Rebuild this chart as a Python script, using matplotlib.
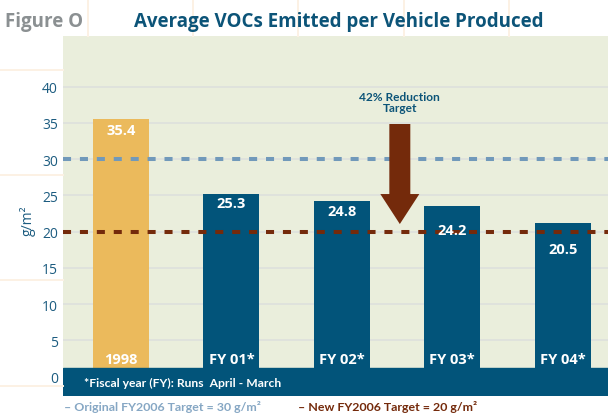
#average VOCs emitted per vehicle produced
import matplotlib.pyplot as plt
import matplotlib as mpl
from matplotlib.lines import Line2D

categories = ['1998', 'FY 01*', 'FY 02*', 'FY 03*', 'FY 04*']
bar_heights = [35.6, 25.2, 24.2, 23.5, 21.2]
value_labels = ['35.4', '25.3', '24.8', '24.2', '20.5']
original_target = 30
new_target = 20
y_ticks = [0, 5, 10, 15, 20, 25, 30, 35, 40]

navy = '#02547A'
gold = '#EBBA5C'
brown = '#742A0B'
light_blue = '#7199BA'
title_col = '#0C5478'
tick_col = '#1C5C80'
bg = '#EAEEDC'
grid_col = '#DFE2DC'
peach = '#FCF1E4'

fig_w, fig_h = 608, 414
fig_dpi = 100
mpl.rc('font', family='Open Sans')
narrow = ['Lato', 'DejaVu Sans']

def px(x):
    return x / fig_w

def py(y):
    return 1 - y / fig_h

figure = plt.figure(figsize=(fig_w / fig_dpi, fig_h / fig_dpi), dpi=fig_dpi)

# faint page grid behind the chart
for yy in [71, 176, 281, 387]:
    figure.add_artist(Line2D([0, px(63)], [py(yy), py(yy)], color=peach, lw=1.4))
for xx in [88, 193, 298, 404, 509]:
    figure.add_artist(Line2D([px(xx), px(xx)], [py(0), py(37)], color=peach, lw=1.4))

ax = figure.add_axes([px(63), py(397), 1 - px(63), py(37) - py(397)])
ax.set_facecolor(bg)
for s in ax.spines.values():
    s.set_visible(False)

y_bottom, y_top = -2.66, 47.0
ax.set_xlim(-0.525, 4.41)
ax.set_ylim(y_bottom, y_top)
ax.set_xticks([])
ax.set_yticks(y_ticks)
ax.tick_params(axis='y', length=0, pad=3.6, labelsize=10, labelcolor=tick_col)
for t in y_ticks[1:]:
    ax.axhline(t, color=grid_col, lw=1.4, zorder=1)

xs = list(range(len(categories)))
colors = [gold] + [navy] * (len(categories) - 1)
ax.bar(xs, bar_heights, width=0.507, color=colors, zorder=2)

# band with footnote
ax.axhspan(y_bottom, 1.2, color=navy, zorder=3)
ax.text(-0.335, -0.85, '*Fiscal year (FY): Runs  April - March', color='white',
        fontsize=8.7, fontweight='bold', family=narrow, va='center', ha='left', zorder=4)

label_drop = [1.6, 1.25, 1.3, 3.3, 3.6]
for x, h, lab, d, cat in zip(xs, bar_heights, value_labels, label_drop, categories):
    ax.text(x, h - d, lab, color='white', fontsize=10.5, fontweight='bold',
            ha='center', va='center', zorder=7)
    ax.text(x, 2.44, cat, color='white', fontsize=10.5, fontweight='bold',
            ha='center', va='center', zorder=4)

ax.axhline(original_target, color=light_blue, lw=2.9, linestyle=(0, (2.0, 2.2)), zorder=4)
ax.axhline(new_target, color=brown, lw=2.9, linestyle=(0, (2.0, 2.2)), zorder=4)

# reduction arrow
ax.arrow(2.525, 34.86, 0, -13.8, width=0.19, head_width=0.353, head_length=4.14,
         length_includes_head=True, color=brown, lw=0, zorder=5)
ax.text(2.525, 37.9, '42% Reduction\nTarget', color=title_col, fontsize=8.6,
        fontweight='bold', family=narrow, ha='center', va='center', linespacing=0.95, zorder=6)

ax.set_ylabel('g/m²', color=tick_col, fontsize=10)
ax.yaxis.set_label_coords(-0.05, 0.49)

figure.text(px(5), py(26.7), 'Figure O', color='#8B9092', fontsize=13.5,
            fontweight='bold', ha='left', va='baseline')
figure.text(px(339), py(26.7), 'Average VOCs Emitted per Vehicle Produced', color=title_col,
            fontsize=13.5, fontweight='bold', ha='center', va='baseline')

figure.text(px(64), py(411), '– Original FY2006 Target = 30 g/m²', color='#86A7C4',
            fontsize=8.9, fontweight='bold', family=narrow, ha='left', va='baseline')
figure.text(px(298), py(411), '– New FY2006 Target = 20 g/m²', color=brown,
            fontsize=8.9, fontweight='bold', family=narrow, ha='left', va='baseline')

plt.savefig('out.png', dpi=fig_dpi)
plt.close()
